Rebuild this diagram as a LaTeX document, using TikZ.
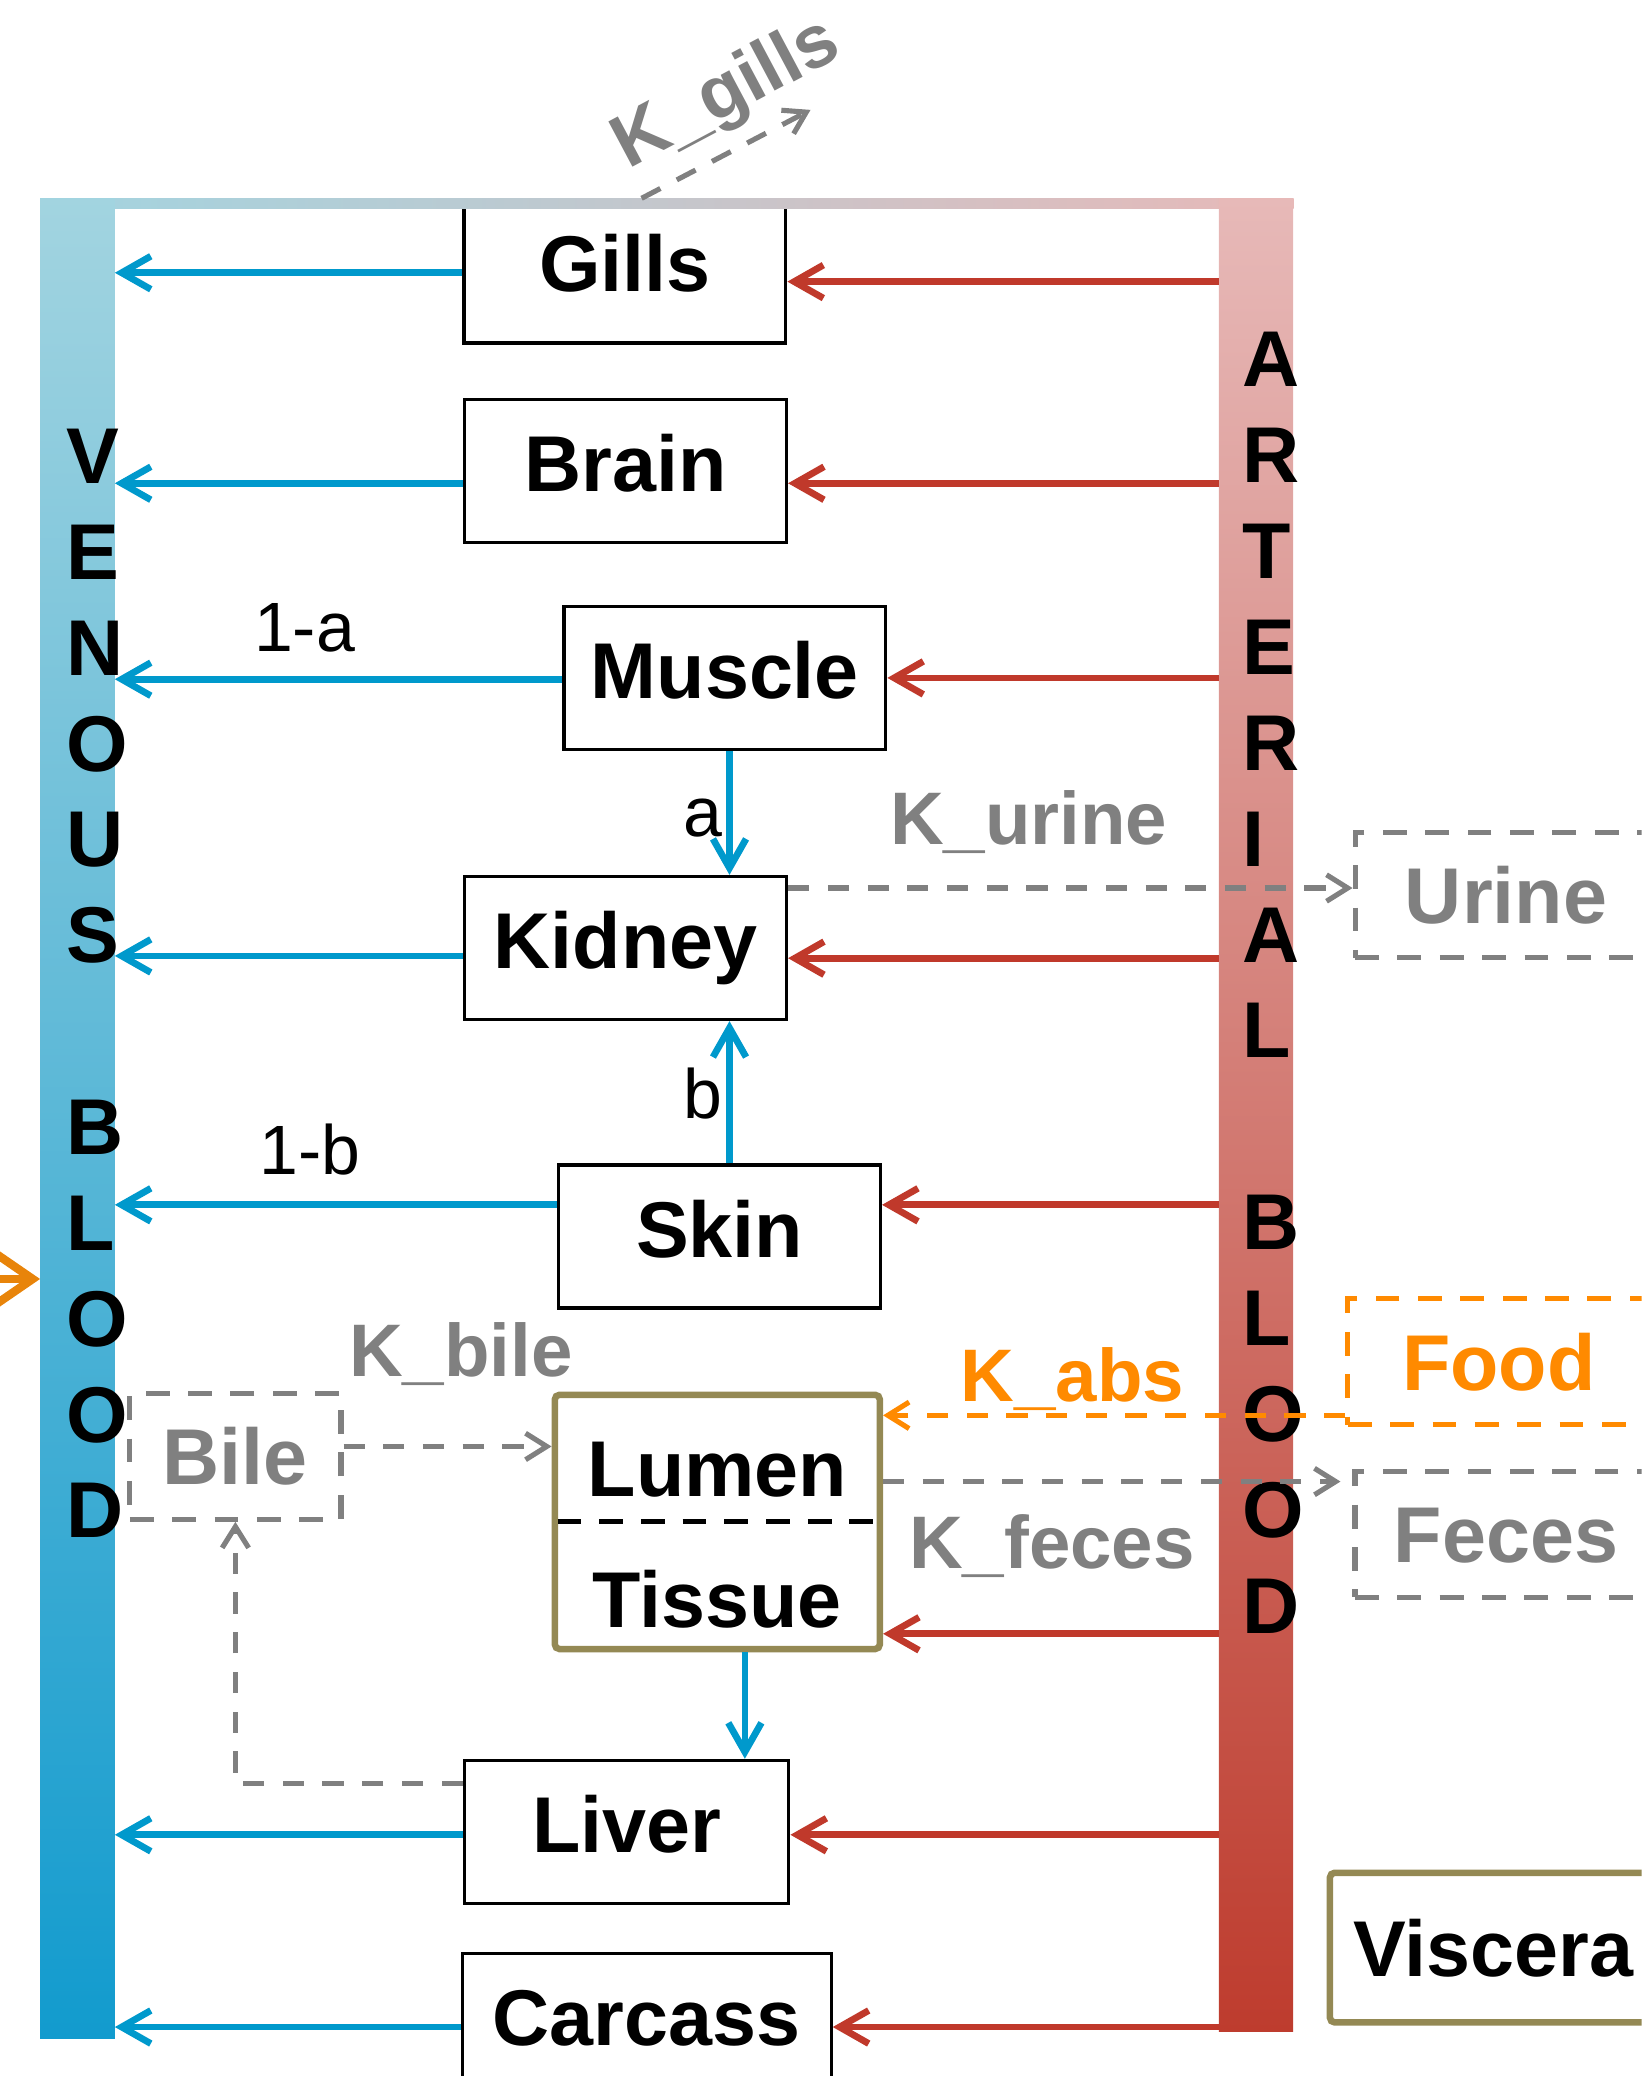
\documentclass[tikz,border=0pt]{standalone}
\usepackage{fontspec}
\setmainfont{Liberation Sans}
\usepackage{xcolor}
\usepackage{tikz}
\usetikzlibrary{arrows.meta,positioning,calc}
\definecolor{venoustop}{RGB}{162,212,224}
\definecolor{venousbot}{RGB}{18,155,206}
\definecolor{arttop}{RGB}{231,185,184}
\definecolor{artbot}{RGB}{190,60,46}
\definecolor{flowblue}{RGB}{0,153,204}
\definecolor{flowred}{RGB}{192,57,43}
\definecolor{absorange}{RGB}{255,138,0}
\definecolor{dietorange}{RGB}{232,132,10}
\definecolor{gutolive}{RGB}{148,137,84}
\definecolor{rategray}{RGB}{128,128,128}
\newcommand{\boxfont}{\fontsize{17}{20.6}\selectfont\bfseries}
\newcommand{\ratefont}{\fontsize{16}{19}\selectfont\bfseries}
\newcommand{\fracfont}{\fontsize{15}{18}\selectfont}
\tikzset{
  organ/.style={rectangle, draw=black, line width=0.7pt, fill=white, inner sep=0pt, minimum width=24.3mm, minimum height=10.8mm, text height=4.3mm, text depth=1.2mm, font=\boxfont},
  gutbox/.style={rectangle, draw=gutolive, line width=1.4pt, rounded corners=1pt, fill=white, inner sep=0pt},
  pool/.style={rectangle, draw=rategray, line width=1.1pt, dash pattern=on 1.8mm off 1.4mm, inner sep=0pt, minimum height=9.5mm, text height=4.3mm, text depth=0pt, text=rategray, font=\boxfont},
  bar/.style={rectangle, inner sep=0pt, outer sep=0pt},
  letters/.style={anchor=base west, align=left, inner sep=0pt, font=\boxfont},
  venflow/.style={line width=1.45pt, flowblue, -{Straight Barb[length=2.2mm,width=2.5mm]}},
  artflow/.style={line width=1.45pt, flowred, -{Straight Barb[length=2.2mm,width=2.5mm]}},
  excrete/.style={line width=1.1pt, rategray, dash pattern=on 1.6mm off 1.4mm, -{Straight Barb[length=1.6mm,width=2mm]}},
  absorb/.style={excrete, absorange},
  intake/.style={line width=1.8pt, dietorange, -{Straight Barb[length=3.2mm,width=4.4mm]}},
  rate/.style={font=\ratefont, text=rategray, inner sep=0pt, anchor=base},
  frac/.style={font=\fracfont, inner sep=0pt, anchor=base}
}

\begin{document}
\begin{tikzpicture}[x=0.1mm, y=-0.1mm]
  \useasboundingbox (0,0) rectangle (1240,1568);
  \clip (0,0) rectangle (1240,1568);

  % organs between the two blood pools
  \node[organ] (gills) at (472,205) {Gills};
  \node[organ] (brain) at (472.5,355.5) {Brain};
  \node[organ] (muscle) at (547.5,512) {Muscle};
  \node[organ] (kidney) at (472.5,716) {Kidney};
  \node[organ] (skin) at (543.5,934) {Skin};
  \node[gutbox, minimum width=24.55mm, minimum height=19.2mm] (gut) at (541.8,1149.5) {};
  \node[organ, minimum width=24.5mm] (liver) at (473.3,1383.6) {Liver};
  \node[organ, minimum width=27.85mm] (carcass) at (488.5,1529.3) {Carcass};

  % gut split in lumen and tissue
  \draw[black, line width=1.1pt, dash pattern=on 1.8mm off 1.35mm] ([xshift=0.45mm]gut.west) -- ([xshift=-0.5mm]gut.east);
  \node[anchor=base, inner sep=0pt, font=\boxfont] (lumen) at (541.8,1130) {Lumen};
  \node[anchor=base, inner sep=0pt, font=\boxfont] (tissue) at (541.8,1229.6) {Tissue};

  % outside pools
  \node[pool, minimum width=15.95mm] (bile) at (177.8,1100) {Bile};
  \node[pool, minimum width=22.8mm] (urine) at (1137.5,676) {Urine};
  \node[pool, minimum width=22.8mm, draw=absorange, text=absorange] (food) at (1132,1028.5) {Food};
  \node[pool, minimum width=22.8mm] (feces) at (1137.4,1159) {Feces};
  \node[gutbox, minimum width=24.7mm, minimum height=11.3mm, text height=4.3mm, text depth=0pt, font=\boxfont] (viscera) at (1128,1471) {Viscera};

  % blood pools
  \node[bar, left color=venoustop, right color=arttop, minimum width=94.6mm, minimum height=0.76mm] (topbar) at (504,153.6) {};
  \node[bar, top color=venoustop, bottom color=venousbot, minimum width=5.65mm, minimum height=139mm] (venous) at (58.5,845) {};
  \node[bar, top color=arttop, bottom color=artbot, minimum width=5.6mm, minimum height=138.4mm] (arterial) at (948.7,842.2) {};
  \node[letters] (venlbl) at (49.5,1161.6) {V\\E\\N\\O\\U\\S\\[20.6pt]B\\L\\O\\O\\D};
  \node[letters] (artlbl) at (938,1233.4) {A\\R\\T\\E\\R\\I\\A\\L\\[20.6pt]B\\L\\O\\O\\D};

  % venous return
  \draw[venflow] (gills.west |- 0,206) -- (venous.east |- 0,206);
  \draw[venflow] (brain.west |- 0,365) -- (venous.east |- 0,365);
  \draw[venflow] (muscle.west |- 0,513) -- (venous.east |- 0,513);
  \draw[venflow] (kidney.west |- 0,722) -- (venous.east |- 0,722);
  \draw[venflow] (skin.west |- 0,910) -- (venous.east |- 0,910);
  \draw[venflow] (liver.west |- 0,1385.8) -- (venous.east |- 0,1385.8);
  \draw[venflow] (carcass.west |- 0,1531) -- (venous.east |- 0,1531);
  \draw[venflow] (muscle.south -| 551,0) -- (kidney.north -| 551,0);
  \draw[venflow] (skin.north -| 551,0) -- (kidney.south -| 551,0);
  \draw[venflow] (gut.south -| 562.6,0) -- (liver.north -| 562.6,0);
  \node[frac] (fa1) at (230,492) {1-a};
  \node[frac] (fa) at (531,632) {a};
  \node[frac] (fb) at (531,845) {b};
  \node[frac] (fb1) at (234,887) {1-b};

  % arterial supply
  \draw[artflow] (arterial.west |- 0,212.7) -- (gills.east |- 0,212.7);
  \draw[artflow] (arterial.west |- 0,365) -- (brain.east |- 0,365);
  \draw[artflow] (arterial.west |- 0,512) -- (muscle.east |- 0,512);
  \draw[artflow] (arterial.west |- 0,723.7) -- (kidney.east |- 0,723.7);
  \draw[artflow] (arterial.west |- 0,910) -- (skin.east |- 0,910);
  \draw[artflow] (arterial.west |- 0,1234) -- (gut.east |- 0,1234);
  \draw[artflow] (arterial.west |- 0,1385.8) -- (liver.east |- 0,1385.8);
  \draw[artflow] (arterial.west |- 0,1531) -- (carcass.east |- 0,1531);

  % exchange with the outside
  \coordinate (gillsout) at (612.2,83);
  \draw[excrete] ([xshift=1.26mm]gills.north) -- (gillsout);
  \node[rate, rotate=28, anchor=base west] (kgills) at (474,128.4) {K\_gills};
  \draw[excrete] (kidney.east |- 0,670.7) -- (urine.west |- 0,670.7);
  \node[rate] (kurine) at (777,638) {K\_urine};
  \draw[absorb] (food.west |- 0,1069) -- (gut.east |- 0,1069);
  \node[rate, text=absorange] (kabs) at (810,1058.5) {K\_abs};
  \draw[excrete, shorten >=0.9mm] (gut.east |- 0,1119) -- (feces.west |- 0,1119);
  \node[rate] (kfeces) at (794.5,1185) {K\_feces};
  \draw[excrete] (bile.east |- 0,1092.5) -- (gut.west |- 0,1092.5);
  \node[rate] (kbile) at (348,1039.6) {K\_bile};
  \draw[excrete] (liver.west |- 0,1347) -| (bile.south);

  % dietary intake
  \coordinate (diet) at (-40,966);
  \draw[intake] (diet) -- (diet -| venous.west);
\end{tikzpicture}
\end{document}
